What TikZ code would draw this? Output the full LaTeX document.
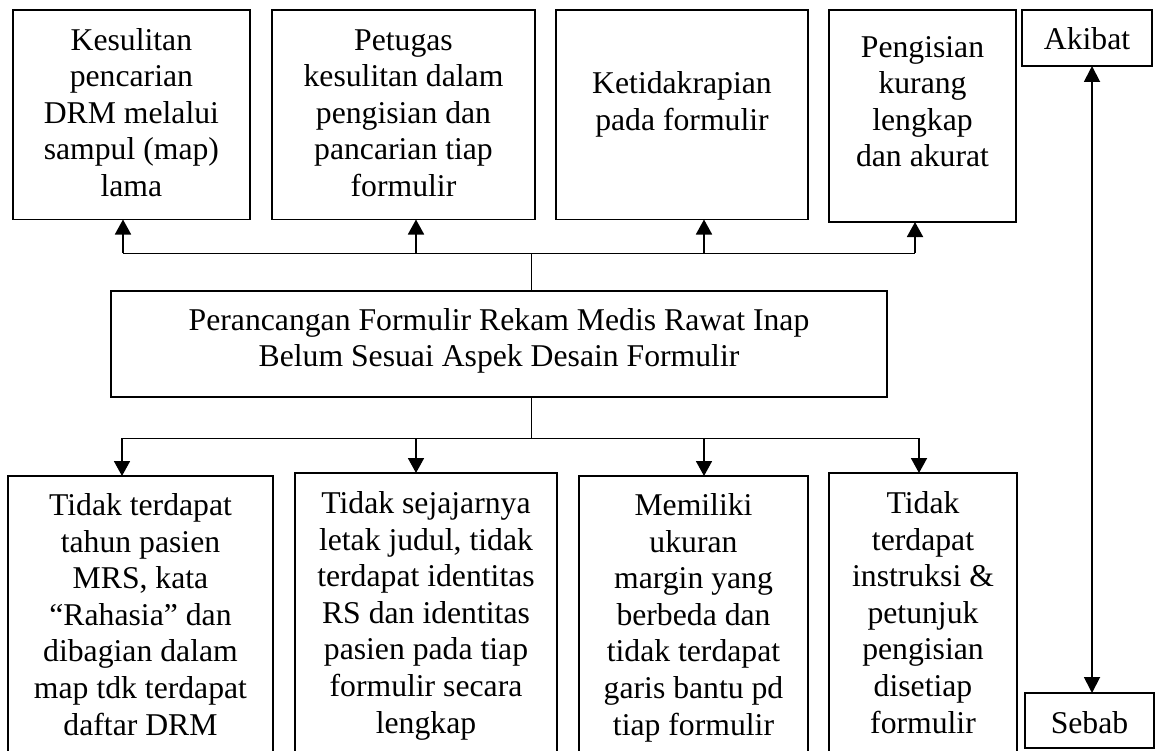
\documentclass[tikz,border=0pt]{standalone}
\usepackage{fontspec}
\setmainfont{Liberation Serif}
\usetikzlibrary{arrows.meta}
\begin{document}
\begin{tikzpicture}[x=1pt,y=-1pt,
  box/.style={draw, line width=1.6pt, inner sep=0pt, outer sep=0pt, anchor=north west},
  txt/.style={align=center, font=\fontsize{31.7}{36.6}\selectfont, inner sep=0pt, anchor=base},
  conn/.style={line width=0.9pt},
  arr/.style={line width=1.8pt, -{Triangle[length=15pt,width=16pt]}},
  darr/.style={line width=1.8pt, {Triangle[length=16pt,width=16pt]}-{Triangle[length=16pt,width=16pt]}}
]
\clip (0,0) rectangle (1155,751);
% top boxes
\node[box, minimum width=237.3pt, minimum height=209.5pt] (T1) at (12.7,10) {};
\node[box, minimum width=263pt, minimum height=209.5pt] (T2) at (272,10) {};
\node[box, minimum width=252pt, minimum height=209.5pt] (T3) at (556,10) {};
\node[box, minimum width=187pt, minimum height=212pt] (T4) at (829,10) {};
\node[box, minimum width=130pt, minimum height=56pt] (Ak) at (1022,10) {};
% middle box
\node[box, minimum width=776pt, minimum height=106pt] (M) at (111,291) {};
% bottom boxes
\node[box, minimum width=265pt, minimum height=300pt] (B1) at (8,476) {};
\node[box, minimum width=262pt, minimum height=300pt] (B2) at (295,473) {};
\node[box, minimum width=229pt, minimum height=300pt] (B3) at (579,476) {};
\node[box, minimum width=188pt, minimum height=300pt] (B4) at (829,473) {};
\node[box, minimum width=129pt, minimum height=55pt] (Sb) at (1025,693) {};
% texts (anchor base = baseline of the last line)
\node[txt] (T1t) at (131.4,196.5) {Kesulitan\\pencarian\\DRM melalui\\sampul (map)\\lama};
\node[txt] (T2t) at (403.5,196.5) {Petugas\\kesulitan dalam\\pengisian dan\\pancarian tiap\\formulir};
\node[txt] (T3t) at (682,130.5) {Ketidakrapian\\pada formulir};
\node[txt] (T4t) at (922.5,167) {Pengisian\\kurang\\lengkap\\dan akurat};
\node[txt] (Akt) at (1087,50) {Akibat};
\node[txt, font=\fontsize{31.7}{36}\selectfont] (Mt) at (499,366.7) {Perancangan Formulir Rekam Medis Rawat Inap\\Belum Sesuai Aspek Desain Formulir};
\node[txt] (B1t) at (140.5,735) {Tidak terdapat\\tahun pasien\\MRS, kata\\“Rahasia” dan\\dibagian dalam\\map tdk terdapat\\daftar DRM};
\node[txt] (B2t) at (426,733) {Tidak sejajarnya\\letak judul, tidak\\terdapat identitas\\RS dan identitas\\pasien pada tiap\\formulir secara\\lengkap};
\node[txt] (B3t) at (693.5,735) {Memiliki\\ukuran\\margin yang\\berbeda dan\\tidak terdapat\\garis bantu pd\\tiap formulir};
\node[txt] (B4t) at (923,733) {Tidak\\terdapat\\instruksi \&\\petunjuk\\pengisian\\disetiap\\formulir};
\node[txt] (Sbt) at (1089.5,733) {Sebab};
% upper connectors
\coordinate (hubU) at (531,253);
\coordinate (u1) at (123,253);
\coordinate (u2) at (416,253);
\coordinate (u3) at (704,253);
\coordinate (u4) at (915,253);
\draw[conn] (M.north -| hubU) -- (hubU);
\draw[conn] (u1) -- (u4);
\draw[arr] (u1) -- (u1 |- T1.south);
\draw[arr] (u2) -- (u2 |- T2.south);
\draw[arr] (u3) -- (u3 |- T3.south);
\draw[arr] (u4) -- (u4 |- T4.south);
% lower connectors
\coordinate (hubD) at (531,438);
\coordinate (d1) at (122,438);
\coordinate (d2) at (416,438);
\coordinate (d3) at (704,438);
\coordinate (d4) at (919,438);
\draw[conn] (M.south -| hubD) -- (hubD);
\draw[conn] (d1) -- (d4);
\draw[arr] (d1) -- (d1 |- B1.north);
\draw[arr] (d2) -- (d2 |- B2.north);
\draw[arr] (d3) -- (d3 |- B3.north);
\draw[arr] (d4) -- (d4 |- B4.north);
% akibat - sebab
\coordinate (vx) at (1092,400);
\draw[darr] (vx |- Ak.south) -- (vx |- Sb.north);
\end{tikzpicture}
\end{document}
